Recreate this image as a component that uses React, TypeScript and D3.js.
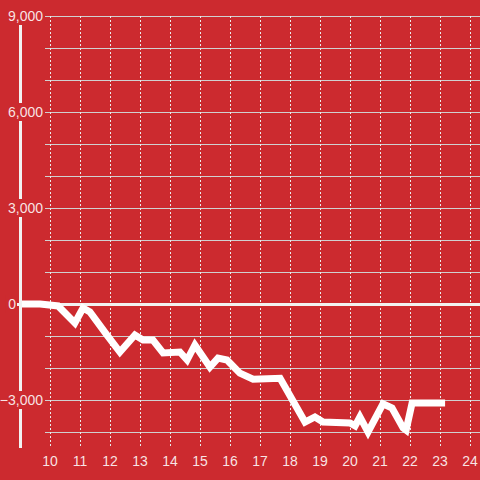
import React from 'react';
import * as d3 from 'd3';

const W = 480;
const H = 480;
const BG = '#cc2a2f';

// hours on x, running total on y
const hours = [9.0, 9.67, 10.27, 10.83, 11.1, 11.33, 11.9, 12.33, 12.83, 13.1, 13.43, 13.77, 14.33, 14.57, 14.83, 15.33, 15.6, 15.9, 16.33, 16.77, 17.67, 18.5, 18.83, 19.1, 20.0, 20.17, 20.33, 20.6, 21.1, 21.4, 21.77, 21.87, 22.07, 23.17];
const values = [0, 0, -60, -590, -125, -250, -970, -1500, -970, -1125, -1125, -1530, -1500, -1750, -1280, -1970, -1690, -1750, -2160, -2350, -2320, -3690, -3530, -3690, -3720, -3810, -3530, -4000, -3120, -3250, -3870, -3940, -3090, -3090];

const xTicks = [10, 11, 12, 13, 14, 15, 16, 17, 18, 19, 20, 21, 22, 23, 24];
const yGrid = [9000, 8000, 7000, 6000, 5000, 4000, 3000, 2000, 1000, -1000, -2000, -3000, -4000];
const yLabels = [9000, 6000, 3000, 0, -3000];

const x = d3.scaleLinear().domain([9, 24]).range([20, 470]);
const y = d3.scaleLinear().domain([9000, -4500]).range([16, 448]);
const fmt = d3.format(',');

export default function App() {
  const pts = hours.map((h, i) => [h, values[i]] as [number, number]);
  const line = d3
    .line<[number, number]>()
    .x((d) => x(d[0]))
    .y((d) => y(d[1]));

  return (
    <div style={{ position: 'fixed', left: 0, top: 0, width: W, height: H }}>
      <svg width={W} height={H} style={{ display: 'block', fontFamily: '"Liberation Sans", Arial, sans-serif' }}>
        <rect width={W} height={H} fill={BG} />
        {yGrid.map((v) => (
          <line key={'g' + v} x1={45} x2={W} y1={y(v) + 0.5} y2={y(v) + 0.5} stroke="#d0d0d0" strokeWidth={1} />
        ))}
        {xTicks.map((t) => (
          <line key={'v' + t} x1={x(t) + 0.5} x2={x(t) + 0.5} y1={16} y2={448} stroke="#ebebeb" strokeWidth={1} strokeDasharray="2,2" />
        ))}
        <line x1={17} x2={W} y1={y(0) + 0.5} y2={y(0) + 0.5} stroke="#f2f2f2" strokeWidth={3} />
        <path d={line(pts) ?? ''} fill="none" stroke="#ffffff" strokeWidth={7} strokeLinejoin="miter" />
        <line x1={20.5} x2={20.5} y1={16} y2={448} stroke="#f2f2f2" strokeWidth={3} />
        {yLabels.map((v) => {
          const txt = fmt(v);
          const right = v === 0 ? 16 : 43;
          const w = txt.length * 7.4 + 3;
          return (
            <g key={'l' + v}>
              <rect x={right - w} y={y(v) - 9} width={w + 1} height={18} fill={BG} />
              <text x={right} y={y(v)} dy="0.35em" textAnchor="end" fontSize={14} fill="#ffffff" fillOpacity={0.88}>
                {txt}
              </text>
            </g>
          );
        })}
        {xTicks.map((t) => (
          <text key={'x' + t} x={x(t)} y={466} textAnchor="middle" fontSize={14} fill="#ffffff" fillOpacity={0.88}>
            {t}
          </text>
        ))}
      </svg>
    </div>
  );
}
